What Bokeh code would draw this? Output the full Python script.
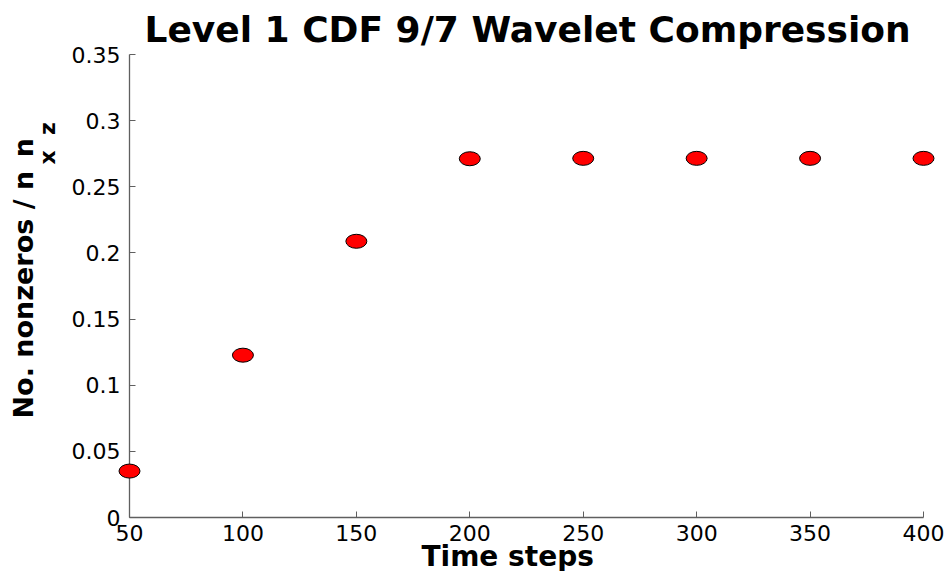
from bokeh.plotting import figure
from bokeh.models import Range1d, Title, FixedTicker, ColumnDataSource
from bokeh.embed import file_html
from bokeh.resources import INLINE

# Data
time_steps = [50, 100, 150, 200, 250, 300, 350, 400]
nonzero_ratio = [0.0351, 0.1227, 0.2088, 0.2712, 0.2715, 0.2715, 0.2715, 0.2715]
x_ticks = [50, 100, 150, 200, 250, 300, 350, 400]
y_ticks = [0, 0.05, 0.1, 0.15, 0.2, 0.25, 0.3, 0.35]
y_tick_labels = {0: "0", 0.05: "0.05", 0.1: "0.1", 0.15: "0.15", 0.2: "0.2",
                 0.25: "0.25", 0.3: "0.3", 0.35: "0.35"}

title_text = "Level 1 CDF 9/7 Wavelet Compression"
xlabel_text = "Time steps"
ylabel_main = "No. nonzeros / n\u2002n"   # n_x n_z : main glyphs
ylabel_subs = "x\u2002\u2009z"            # the two subscripts

FONT = "DejaVu Sans"
AXIS_COLOR = "#5f5f5f"

p = figure(width=949, height=571, output_backend="svg", toolbar_location=None,
           x_range=Range1d(50, 400), y_range=Range1d(0, 0.35),
           min_border_left=129, min_border_right=26,
           min_border_top=54, min_border_bottom=54)
p.outline_line_color = None
p.xgrid.visible = False
p.ygrid.visible = False
p.background_fill_color = "white"
p.border_fill_color = "white"

for ax in (p.xaxis[0], p.yaxis[0]):
    ax.axis_line_color = AXIS_COLOR
    ax.axis_line_width = 1.3
    ax.major_tick_line_color = AXIS_COLOR
    ax.major_tick_in = 6
    ax.major_tick_out = 0
    ax.minor_tick_line_color = None
    ax.major_label_text_font = FONT
    ax.major_label_text_font_size = "22px"
    ax.major_label_text_color = "black"
p.xaxis.major_label_standoff = 7
p.yaxis.major_label_standoff = 9

p.xaxis.ticker = FixedTicker(ticks=x_ticks)
p.yaxis.ticker = FixedTicker(ticks=y_ticks)
p.yaxis.major_label_overrides = {k: v for k, v in y_tick_labels.items()}

src = ColumnDataSource(dict(x=time_steps, y=nonzero_ratio))
p.ellipse(x="x", y="y", width=21, height=14, width_units="screen",
          height_units="screen", source=src, fill_color="#ff0000",
          line_color="black", line_width=1, level="overlay")

# Title
p.title.text = title_text
p.title.align = "left"
p.title.offset = 15
p.title.standoff = 6
p.title.vertical_align = "top"
p.title.text_font = FONT
p.title.text_font_style = "bold"
p.title.text_font_size = "36px"
p.title.text_color = "black"

# X label
p.add_layout(Title(text=xlabel_text, align="left", offset=292, standoff=-12,
                   text_font=FONT, text_font_style="bold",
                   text_font_size="28px", text_color="black"), "below")

# Y label "No. nonzeros / n_x n_z": subscripts column, then main column
p.add_layout(Title(text=ylabel_subs, align="left", offset=353, standoff=17,
                   text_font=FONT, text_font_style="bold",
                   text_font_size="22px", text_color="black"), "left")
p.add_layout(Title(text=ylabel_main, align="left", offset=99, standoff=-29,
                   text_font=FONT, text_font_style="bold",
                   text_font_size="27px", text_color="black"), "left")

open("out.html", "w").write(file_html(p, INLINE))
